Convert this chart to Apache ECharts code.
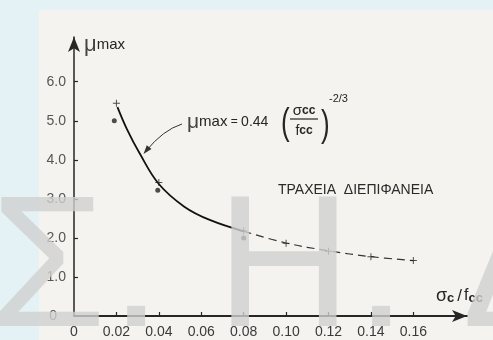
<!DOCTYPE html>
<html>
<head>
<meta charset="utf-8">
<script src="https://cdn.jsdelivr.net/npm/echarts@6/dist/echarts.min.js"></script>
<style>
  html, body { margin: 0; padding: 0; background: #e4f2f5; }
  #chart { width: 493px; height: 340px; }
</style>
</head>
<body>
<div id="chart"></div>
<script>
// Axis ticks
const xTicks = [0, 0.02, 0.04, 0.06, 0.08, 0.10, 0.12, 0.14, 0.16];
const yTicks = [0, 1, 2, 3, 4, 5, 6];

// Fitted curve μmax = 0.44 (σcc/fcc)^(-2/3): solid part, then dashed extension
const fitSolidX = [0.0205, 0.025, 0.031, 0.04, 0.052, 0.064, 0.08];
const fitSolidY = [5.35, 4.78, 4.16, 3.38, 2.80, 2.46, 2.17];
const fitDashX = [0.08, 0.10, 0.12, 0.14, 0.16];
const fitDashY = [2.17, 1.87, 1.67, 1.52, 1.42];

// Test results (crosses and dots)
const crossX = [0.02, 0.04, 0.08, 0.10, 0.12, 0.14, 0.16];
const crossY = [5.45, 3.42, 2.18, 1.86, 1.66, 1.52, 1.42];
const dotX = [0.019, 0.0395, 0.08];
const dotY = [5.0, 3.22, 2.0];

const zip = (xs, ys) => xs.map((x, i) => [x, ys[i]]);

const INK = '#262626';
const FONT = '"Liberation Sans", Arial, sans-serif';
const crossPath = 'path://M4.3,0H5.7V4.3H10V5.7H5.7V10H4.3V5.7H0V4.3H4.3Z';

// pointer arrow from the formula to the curve
const arrowStart = [182, 124], arrowCtrl = [163, 130], arrowEnd = [146, 151];
const dx = arrowEnd[0] - arrowCtrl[0], dy = arrowEnd[1] - arrowCtrl[1];
const len = Math.hypot(dx, dy), ux = dx / len, uy = dy / len;
const tip = [arrowEnd[0] + ux * 4, arrowEnd[1] + uy * 4];
const base = [tip[0] - ux * 9, tip[1] - uy * 9];
const head = [tip, [base[0] + uy * 3, base[1] - ux * 3], [base[0] - uy * 3, base[1] + ux * 3]];

const wmStyle = { font: '188px ' + FONT, fill: 'rgba(208,208,208,0.8)', verticalAlign: 'top' };
const parenStyle = t => ({ text: t, font: '26px ' + FONT, fill: INK, verticalAlign: 'middle' });

const chart = echarts.init(document.getElementById('chart'));
chart.setOption({
  backgroundColor: '#e4f2f5',
  animation: false,
  grid: { left: 74, top: 37, right: 26, bottom: 24 },
  xAxis: {
    type: 'value', min: 0, max: 0.1853,
    splitLine: { show: false },
    axisLine: { lineStyle: { color: INK, width: 1.8 }, symbol: ['none', 'arrow'], symbolSize: [9, 15] },
    axisTick: { inside: true, length: 4, lineStyle: { color: INK, width: 1.2 }, customValues: xTicks.slice(1) },
    axisLabel: {
      customValues: xTicks, margin: 9, color: '#3a3a3a', fontSize: 14, fontFamily: FONT,
      formatter: v => v === 0 ? '0' : v.toFixed(2)
    }
  },
  yAxis: {
    type: 'value', min: 0, max: 7.145,
    splitLine: { show: false },
    axisLine: { lineStyle: { color: INK, width: 1.5 }, symbol: ['none', 'arrow'], symbolSize: [9, 15] },
    axisTick: { inside: true, length: 4, lineStyle: { color: INK, width: 1.2 }, customValues: yTicks.slice(1) },
    axisLabel: {
      customValues: yTicks, margin: 8, color: '#555', fontSize: 14, fontFamily: FONT,
      formatter: v => v === 0 ? '{z|0}' : v.toFixed(1),
      rich: { z: { fontSize: 14, fontFamily: FONT, color: '#555', padding: [0, 9, 0, 0] } }
    }
  },
  series: [
    { type: 'line', data: zip(fitSolidX, fitSolidY), smooth: 0.4, symbol: 'none',
      lineStyle: { color: '#111', width: 1.8 }, z: 3 },
    { type: 'line', data: zip(fitDashX, fitDashY), smooth: 0.4, symbol: 'none',
      lineStyle: { color: '#333', width: 1.2, type: [8, 5] }, z: 3 },
    { type: 'scatter', data: zip(crossX, crossY), symbol: crossPath, symbolSize: 7,
      itemStyle: { color: '#222' }, z: 4 },
    { type: 'scatter', data: zip(dotX, dotY), symbol: 'circle', symbolSize: 5,
      itemStyle: { color: '#222' }, z: 4 }
  ],
  graphic: [
    // paper
    { type: 'rect', z: -10, shape: { x: 39, y: 10, width: 470, height: 340 }, style: { fill: '#f5f3f0' } },
    // axis titles
    { type: 'text', z: 10, x: 84, y: 45, style: {
        text: '{m|μ}{s|max}', verticalAlign: 'middle', fill: INK,
        rich: { m: { fontSize: 22, fontFamily: FONT, fill: '#444' }, s: { fontSize: 15, fontFamily: FONT, fill: INK } } } },
    { type: 'text', z: 10, x: 436, y: 296, style: {
        text: '{a|σ}{b|c}{d|/}{f|f}{b|cc}', verticalAlign: 'middle', fill: INK,
        rich: { a: { fontSize: 18, fontFamily: FONT }, f: { fontSize: 16, fontFamily: FONT },
                d: { fontSize: 17, fontFamily: FONT, padding: [0, 2, 0, 3] },
                b: { fontSize: 13, fontFamily: FONT, fontWeight: 'bold', padding: [5, 0, 0, 0] } } } },
    // formula
    { type: 'text', z: 10, x: 187, y: 122, style: {
        text: '{m|μ}{s|max}{e| = }{n|0.44}', verticalAlign: 'middle', fill: INK,
        rich: { m: { fontSize: 21, fontFamily: FONT, fill: '#444' }, s: { fontSize: 15, fontFamily: FONT },
                e: { fontSize: 12, fontFamily: FONT }, n: { fontSize: 14, fontFamily: FONT } } } },
    { type: 'text', z: 10, x: 281, y: 124, scaleY: 1.45, style: parenStyle('(') },
    { type: 'text', z: 10, x: 304, y: 111, style: {
        text: '{a|σ}{b|cc}', align: 'center', verticalAlign: 'middle', fill: INK,
        rich: { a: { fontSize: 15, fontFamily: FONT }, b: { fontSize: 12, fontFamily: FONT, fontWeight: 'bold' } } } },
    { type: 'line', z: 10, shape: { x1: 290, y1: 119, x2: 318, y2: 119 }, style: { stroke: INK, lineWidth: 1.2 } },
    { type: 'text', z: 10, x: 304, y: 131, style: {
        text: '{a|f}{b|cc}', align: 'center', verticalAlign: 'middle', fill: INK,
        rich: { a: { fontSize: 14, fontFamily: FONT }, b: { fontSize: 12, fontFamily: FONT, fontWeight: 'bold' } } } },
    { type: 'text', z: 10, x: 321, y: 126, scaleY: 1.45, style: parenStyle(')') },
    { type: 'text', z: 10, x: 329, y: 99, style: { text: '-2/3', font: '11px ' + FONT, fill: INK, verticalAlign: 'middle' } },
    // pointer arrow
    { type: 'bezierCurve', z: 10, shape: { x1: arrowStart[0], y1: arrowStart[1], cpx1: arrowCtrl[0], cpy1: arrowCtrl[1], x2: arrowEnd[0], y2: arrowEnd[1] },
      style: { stroke: '#333', lineWidth: 1, fill: null } },
    { type: 'polygon', z: 10, shape: { points: head }, style: { fill: '#333' } },
    // surface label
    { type: 'text', z: 10, x: 278, y: 190, style: { text: 'ΤΡΑΧΕΙΑ  ΔΙΕΠΙΦΑΝΕΙΑ', font: '14px ' + FONT, fill: '#2a2a2a', verticalAlign: 'middle' } },
    // publisher mark
    { type: 'text', z: 100, x: -10, y: 180, style: Object.assign({ text: 'Σ' }, wmStyle) },
    { type: 'text', z: 100, x: 110, y: 180, style: Object.assign({ text: '.' }, wmStyle) },
    { type: 'text', z: 100, x: 216, y: 180, style: Object.assign({ text: 'Η' }, wmStyle) },
    { type: 'text', z: 100, x: 355, y: 180, style: Object.assign({ text: '.' }, wmStyle) },
    { type: 'text', z: 100, x: 462, y: 180, style: Object.assign({ text: 'Δ' }, wmStyle) }
  ]
});
</script>
</body>
</html>
